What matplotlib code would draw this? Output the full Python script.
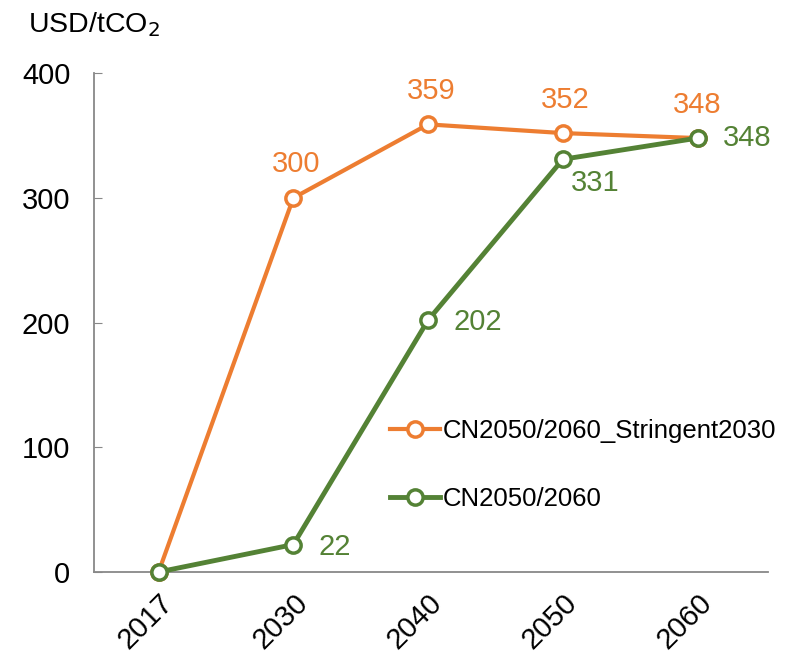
import numpy as np
import matplotlib.pyplot as plt

years = ["2017", "2030", "2040", "2050", "2060"]
stringent = [0, 300, 359, 352, 348]
cn = [0, 22, 202, 331, 348]

orange = "#ED7D31"
green = "#548235"


def main():
    plt.rcParams['font.family'] = ['Liberation Sans', 'DejaVu Sans']
    fig = plt.figure(figsize=(7.89, 6.54), dpi=100)
    ax = fig.add_axes([0.119, 0.1254, 0.854, 0.7626])
    x = np.arange(len(years))

    ax.plot(x, stringent, color=orange, lw=3, marker='o', ms=11, mfc='white',
            mec=orange, mew=2.5, label="CN2050/2060_Stringent2030", zorder=3)
    ax.plot(x, cn, color=green, lw=3.5, marker='o', ms=11, mfc='white',
            mec=green, mew=2.5, label="CN2050/2060", zorder=4)

    # data labels
    offs_o = [None, (2, 14), (2, 14), (2, 14), (0, 14)]
    for i in range(1, len(x)):
        ax.annotate(str(stringent[i]), (x[i], stringent[i]), xytext=offs_o[i],
                    textcoords='offset points', ha='center', va='bottom',
                    color=orange, fontsize=21)
    offs_g = [None, (18, -2), (18, -1), (6, -17), (18, 0)]
    for i in range(1, len(x)):
        ax.annotate(str(cn[i]), (x[i], cn[i]), xytext=offs_g[i],
                    textcoords='offset points', ha='left', va='center',
                    color=green, fontsize=21)

    ax.set_xlim(-0.48, 4.52)
    ax.set_ylim(0, 400)
    ax.set_xticks(x)
    ax.set_xticklabels(years, rotation=45, ha='right', rotation_mode='anchor')
    ax.set_yticks([0, 100, 200, 300, 400])
    ax.tick_params(axis='both', labelsize=21, colors='black')
    ax.tick_params(axis='x', length=0, pad=12)
    ax.tick_params(axis='y', direction='in', length=6, color='#888888', pad=17)
    for s in ['top', 'right']:
        ax.spines[s].set_visible(False)
    for s in ['left', 'bottom']:
        ax.spines[s].set_color('#888888')
        ax.spines[s].set_linewidth(1.3)
    for line in ax.lines:
        line.set_clip_on(False)

    fig.text(0.036, 0.962, "USD/tCO$_2$", fontsize=20.5, ha='left', va='center')

    ax.legend(loc='center left', bbox_to_anchor=(0.439, 0.214), frameon=False,
              fontsize=18.5, labelspacing=1.7, handlelength=1.95,
              handletextpad=0.1, borderaxespad=0, borderpad=0)

    fig.savefig("out.png", dpi=100)


if __name__ == '__main__':
    main()
